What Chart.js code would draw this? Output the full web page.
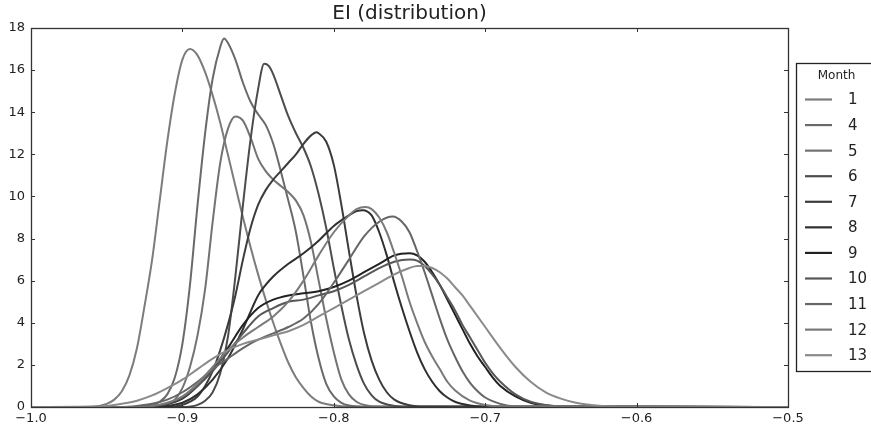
<!DOCTYPE html>
<html><head><meta charset="utf-8">
<script src="https://cdn.jsdelivr.net/npm/chart.js@4/dist/chart.umd.min.js"></script>
<style>html,body{margin:0;padding:0;background:#fff;}#wrap{width:871px;height:430px;}</style>
</head><body><div id="wrap"><canvas id="c" width="871" height="430"></canvas></div>
<script>
// ---- data ----
const title = 'EI (distribution)';
const legendTitle = 'Month';
const months = ['1','4','5','6','7','8','9','10','11','12','13'];
const lineColors = ['#7c7c7c','#6a6a6a','#737373','#4c4c4c','#3c3c3c','#2f2f2f','#222222','#575757','#666666','#7a7a7a','#8a8a8a'];
const xTicks = [-1.0,-0.9,-0.8,-0.7,-0.6,-0.5];
const yTicks = [0,2,4,6,8,10,12,14,16,18];

const m1_x = [-1.0,-0.96,-0.95,-0.945,-0.94,-0.935,-0.93,-0.925,-0.92,-0.915,-0.91,-0.905,-0.90,-0.895,-0.89,-0.885,-0.88,-0.875,-0.87,-0.865,-0.86,-0.855,-0.85,-0.845,-0.84,-0.835,-0.83,-0.825,-0.82,-0.815,-0.81,-0.80,-0.79,-0.5];
const m1_y = [0,0.02,0.15,0.35,0.75,1.5,2.8,4.8,7.0,9.8,12.6,14.9,16.5,17.0,16.7,15.9,14.8,13.5,12.0,10.5,9.0,7.6,6.3,5.1,4.0,3.0,2.1,1.4,0.9,0.5,0.25,0.08,0.02,0];

const m4_x = [-1.0,-0.93,-0.92,-0.915,-0.91,-0.905,-0.90,-0.895,-0.89,-0.885,-0.88,-0.875,-0.8725,-0.87,-0.865,-0.86,-0.855,-0.85,-0.845,-0.84,-0.835,-0.83,-0.825,-0.82,-0.815,-0.81,-0.805,-0.80,-0.795,-0.79,-0.78,-0.5];
const m4_y = [0,0,0.1,0.25,0.6,1.4,3.0,5.8,9.6,13.0,15.6,17.1,17.5,17.3,16.5,15.4,14.5,13.9,13.4,12.5,11.2,9.8,8.3,6.2,4.0,2.3,1.1,0.5,0.2,0.07,0,0];

const m5_x = [-1.0,-0.92,-0.91,-0.905,-0.90,-0.895,-0.89,-0.885,-0.88,-0.875,-0.87,-0.865,-0.86,-0.855,-0.85,-0.845,-0.84,-0.835,-0.83,-0.825,-0.82,-0.815,-0.81,-0.805,-0.80,-0.795,-0.79,-0.785,-0.78,-0.77,-0.5];
const m5_y = [0,0,0.1,0.35,0.9,1.9,3.4,5.6,8.8,11.6,13.2,13.8,13.6,12.8,11.8,11.2,10.8,10.5,10.2,9.8,9.1,7.8,6.0,4.2,2.6,1.3,0.6,0.25,0.1,0.02,0];

const m6_x = [-1.0,-0.90,-0.89,-0.885,-0.88,-0.875,-0.87,-0.865,-0.86,-0.855,-0.85,-0.846,-0.843,-0.84,-0.835,-0.83,-0.825,-0.82,-0.815,-0.81,-0.805,-0.80,-0.795,-0.79,-0.785,-0.78,-0.775,-0.77,-0.76,-0.75,-0.5];
const m6_y = [0,0,0.1,0.3,0.7,1.6,3.3,6.2,9.6,12.7,15.1,16.3,16.2,15.8,14.8,13.8,13.0,12.3,11.4,10.1,8.5,6.6,4.8,3.2,2.0,1.1,0.55,0.25,0.05,0,0];

const m7_x = [-1.0,-0.91,-0.90,-0.895,-0.89,-0.885,-0.88,-0.875,-0.87,-0.865,-0.86,-0.855,-0.85,-0.845,-0.84,-0.835,-0.83,-0.825,-0.82,-0.815,-0.8115,-0.81,-0.805,-0.80,-0.795,-0.79,-0.785,-0.78,-0.775,-0.77,-0.765,-0.76,-0.75,-0.74,-0.5];
const m7_y = [0,0,0.1,0.25,0.5,1.0,1.7,2.7,3.9,5.3,7.0,8.5,9.6,10.3,10.8,11.2,11.6,12.0,12.5,12.9,13.05,13.0,12.6,11.5,9.6,7.4,5.3,3.5,2.2,1.3,0.7,0.35,0.08,0.02,0];

const m8_x = [-1.0,-0.92,-0.91,-0.90,-0.89,-0.88,-0.87,-0.86,-0.85,-0.845,-0.84,-0.83,-0.82,-0.81,-0.80,-0.79,-0.785,-0.781,-0.775,-0.77,-0.765,-0.76,-0.755,-0.75,-0.745,-0.74,-0.735,-0.73,-0.725,-0.72,-0.71,-0.70,-0.5];
const m8_y = [0,0,0.05,0.2,0.6,1.3,2.3,3.7,5.3,5.8,6.2,6.8,7.3,7.9,8.6,9.1,9.3,9.35,9.1,8.3,7.2,5.9,4.7,3.6,2.6,1.8,1.2,0.75,0.45,0.25,0.07,0,0];

const m9_x = [-1.0,-0.93,-0.92,-0.91,-0.90,-0.89,-0.88,-0.87,-0.86,-0.85,-0.84,-0.83,-0.82,-0.81,-0.80,-0.79,-0.78,-0.77,-0.76,-0.75,-0.745,-0.74,-0.735,-0.73,-0.725,-0.72,-0.715,-0.71,-0.705,-0.70,-0.695,-0.69,-0.68,-0.67,-0.66,-0.65,-0.5];
const m9_y = [0,0,0.05,0.15,0.4,1.0,1.8,2.8,3.9,4.7,5.1,5.3,5.4,5.5,5.7,6.0,6.4,6.8,7.2,7.3,7.2,6.9,6.4,5.8,5.1,4.4,3.7,3.0,2.4,1.9,1.4,1.0,0.5,0.2,0.07,0.02,0];

const m10_x = [-1.0,-0.93,-0.92,-0.91,-0.90,-0.89,-0.88,-0.87,-0.86,-0.85,-0.84,-0.83,-0.82,-0.81,-0.80,-0.79,-0.78,-0.77,-0.76,-0.75,-0.745,-0.74,-0.735,-0.73,-0.725,-0.72,-0.715,-0.71,-0.705,-0.70,-0.695,-0.69,-0.68,-0.67,-0.66,-0.65,-0.5];
const m10_y = [0,0,0.05,0.15,0.45,1.0,1.7,2.6,3.5,4.3,4.7,5.0,5.1,5.3,5.5,5.8,6.2,6.6,6.9,7.0,6.95,6.7,6.3,5.8,5.2,4.6,3.9,3.3,2.7,2.1,1.6,1.2,0.6,0.25,0.1,0.03,0];

const m11_x = [-1.0,-0.94,-0.93,-0.92,-0.91,-0.90,-0.89,-0.88,-0.87,-0.86,-0.85,-0.84,-0.83,-0.82,-0.81,-0.80,-0.79,-0.78,-0.77,-0.761,-0.755,-0.75,-0.745,-0.74,-0.735,-0.73,-0.725,-0.72,-0.715,-0.71,-0.705,-0.70,-0.69,-0.68,-0.5];
const m11_y = [0,0,0.05,0.15,0.35,0.7,1.2,1.8,2.3,2.8,3.2,3.5,3.8,4.2,4.9,5.9,7.0,8.1,8.8,9.05,8.8,8.3,7.4,6.4,5.3,4.2,3.2,2.4,1.7,1.15,0.75,0.45,0.15,0.04,0];

const m12_x = [-1.0,-0.93,-0.92,-0.91,-0.90,-0.89,-0.88,-0.87,-0.86,-0.85,-0.84,-0.83,-0.82,-0.81,-0.80,-0.79,-0.785,-0.779,-0.775,-0.77,-0.765,-0.76,-0.755,-0.75,-0.745,-0.74,-0.735,-0.73,-0.725,-0.72,-0.71,-0.70,-0.69,-0.5];
const m12_y = [0,0,0.05,0.2,0.5,1.1,1.9,2.7,3.3,3.8,4.3,5.0,6.0,7.2,8.3,9.1,9.4,9.5,9.4,9.0,8.3,7.3,6.2,5.0,4.0,3.1,2.4,1.8,1.2,0.8,0.3,0.1,0.03,0];

const m13_x = [-1.0,-0.96,-0.95,-0.94,-0.93,-0.92,-0.91,-0.90,-0.89,-0.88,-0.87,-0.86,-0.85,-0.84,-0.83,-0.82,-0.81,-0.80,-0.79,-0.78,-0.77,-0.76,-0.75,-0.745,-0.74,-0.735,-0.73,-0.725,-0.72,-0.715,-0.71,-0.70,-0.69,-0.68,-0.67,-0.66,-0.65,-0.64,-0.63,-0.62,-0.60,-0.5];
const m13_y = [0,0,0.05,0.15,0.3,0.55,0.9,1.3,1.8,2.3,2.7,3.0,3.2,3.4,3.6,3.9,4.3,4.7,5.1,5.5,5.9,6.3,6.6,6.7,6.7,6.6,6.4,6.1,5.7,5.3,4.8,3.8,2.8,1.9,1.2,0.7,0.4,0.2,0.1,0.04,0.01,0];

const seriesX = [m1_x,m4_x,m5_x,m6_x,m7_x,m8_x,m9_x,m10_x,m11_x,m12_x,m13_x];
const seriesY = [m1_y,m4_y,m5_y,m6_y,m7_y,m8_y,m9_y,m10_y,m11_y,m12_y,m13_y];

// ---- chart ----
const FONT = "'DejaVu Sans', 'Liberation Sans', sans-serif";
const fmt = v => { const s = Math.abs(v).toFixed(1); return (v < -1e-9 ? '\u2212' : '') + s; };

const datasets = months.map((m, i) => ({
  label: m,
  data: seriesX[i].map((x, k) => ({x: x, y: seriesY[i][k]})),
  borderColor: lineColors[i],
  backgroundColor: lineColors[i],
  borderWidth: 2,
  pointRadius: 0,
  fill: false,
  cubicInterpolationMode: 'monotone',
  order: months.length - i
}));

const framePlugin = {
  id: 'frame',
  afterDatasetsDraw(chart) {
    const {ctx, chartArea: a, scales} = chart;
    ctx.save();
    ctx.strokeStyle = '#333';
    ctx.lineWidth = 1;
    ctx.beginPath();
    xTicks.forEach(v => {
      const px = Math.round(scales.x.getPixelForValue(v)) + 0.5;
      ctx.moveTo(px, a.bottom); ctx.lineTo(px, a.bottom - 4);
      ctx.moveTo(px, a.top); ctx.lineTo(px, a.top + 4);
    });
    yTicks.forEach(v => {
      const py = Math.round(scales.y.getPixelForValue(v)) + 0.5;
      ctx.moveTo(a.left, py); ctx.lineTo(a.left + 4, py);
      ctx.moveTo(a.right, py); ctx.lineTo(a.right - 4, py);
    });
    ctx.stroke();
    ctx.lineWidth = 1.3;
    ctx.strokeRect(Math.round(a.left) + 0.5, Math.round(a.top) + 0.5, Math.round(a.right - a.left), Math.round(a.bottom - a.top));
    ctx.restore();
  }
};

const legendPlugin = {
  id: 'boxLegend',
  afterDraw(chart) {
    const ctx = chart.ctx;
    const bx = 796.5, by = 63.5, bw = 95, bh = 308;
    ctx.save();
    ctx.fillStyle = '#fff';
    ctx.fillRect(bx, by, bw, bh);
    ctx.strokeStyle = '#222';
    ctx.lineWidth = 1.3;
    ctx.strokeRect(bx, by, bw, bh);
    ctx.fillStyle = '#222';
    ctx.font = '12px ' + FONT;
    ctx.textAlign = 'center';
    ctx.textBaseline = 'middle';
    ctx.fillText(legendTitle, 836.5, 75.5);
    ctx.textAlign = 'left';
    ctx.font = '15px ' + FONT;
    chart.data.datasets.forEach((ds, i) => {
      const y = 99.5 + i * 25.57;
      ctx.strokeStyle = ds.borderColor;
      ctx.lineWidth = 2.2;
      ctx.beginPath();
      ctx.moveTo(805, y); ctx.lineTo(832, y);
      ctx.stroke();
      ctx.fillStyle = '#222';
      ctx.fillText(ds.label, 848, y + 1);
    });
    ctx.restore();
  }
};

new Chart(document.getElementById('c'), {
  type: 'line',
  data: {datasets},
  options: {
    responsive: false,
    animation: false,
    devicePixelRatio: 1,
    layout: {padding: {left: 0, right: 83, top: 0, bottom: 0}},
    plugins: {
      legend: {display: false},
      tooltip: {enabled: false},
      title: {display: true, fullSize: false, text: title, color: '#222', font: {family: FONT, size: 20, weight: 'normal'}, padding: {top: 2, bottom: 2}}
    },
    scales: {
      x: {
        type: 'linear', min: -1.0, max: -0.5,
        afterBuildTicks: s => { s.ticks = xTicks.map(v => ({value: v})); },
        afterFit: s => { s.height = 23; },
        grid: {display: false, drawTicks: false},
        border: {display: false},
        ticks: {callback: v => fmt(v), color: '#222', font: {family: FONT, size: 13}, padding: 4, maxRotation: 0, autoSkip: false}
      },
      y: {
        type: 'linear', min: 0, max: 18,
        afterBuildTicks: s => { s.ticks = yTicks.map(v => ({value: v})); },
        afterFit: s => { s.width = 31; },
        grid: {display: false, drawTicks: false},
        border: {display: false},
        ticks: {callback: v => String(v), color: '#222', font: {family: FONT, size: 13}, padding: 6, autoSkip: false}
      }
    }
  },
  plugins: [framePlugin, legendPlugin]
});
</script>
</body></html>
